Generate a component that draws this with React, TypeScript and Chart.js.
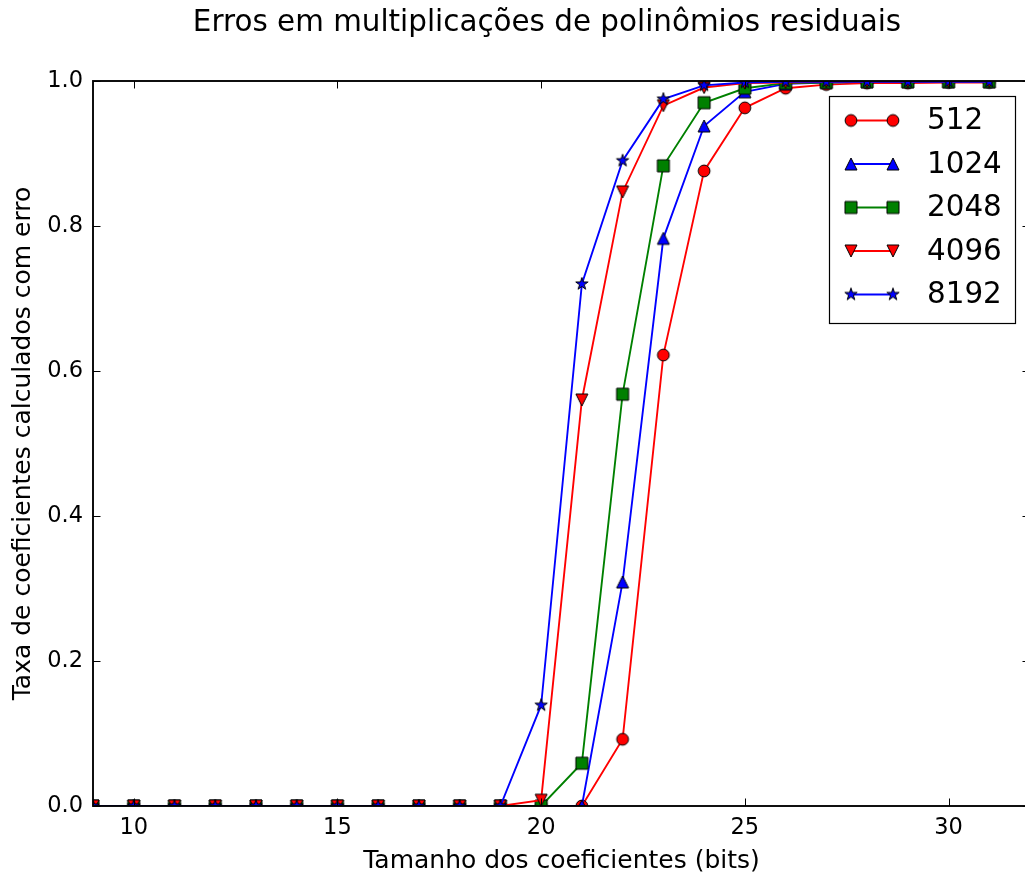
import React, { useEffect, useRef } from 'react';
import { Chart, registerables } from 'chart.js';

Chart.register(...registerables);

// ---- data ----
const chartTitle = 'Erros em multiplicações de polinômios residuais';
const xAxisTitle = 'Tamanho dos coeficientes (bits)';
const yAxisTitle = 'Taxa de coeficientes calculados com erro';

const bits = [9, 10, 11, 12, 13, 14, 15, 16, 17, 18, 19, 20, 21, 22, 23, 24, 25, 26, 27, 28, 29, 30, 31];

const rate512 = [0, 0, 0, 0, 0, 0, 0, 0, 0, 0, 0, 0, 0, 0.092, 0.622, 0.876, 0.963, 0.990, 0.995, 0.997, 0.997, 0.998, 0.998];
const rate1024 = [0, 0, 0, 0, 0, 0, 0, 0, 0, 0, 0, 0, 0, 0.309, 0.783, 0.938, 0.985, 0.996, 0.998, 0.999, 0.999, 0.999, 0.999];
const rate2048 = [0, 0, 0, 0, 0, 0, 0, 0, 0, 0, 0, 0, 0.059, 0.568, 0.883, 0.970, 0.990, 0.997, 0.998, 0.999, 0.999, 0.999, 0.999];
const rate4096 = [0, 0, 0, 0, 0, 0, 0, 0, 0, 0, 0, 0.008, 0.560, 0.847, 0.966, 0.991, 0.997, 0.998, 0.999, 0.999, 0.999, 0.999, 0.999];
const rate8192 = [0, 0, 0, 0, 0, 0, 0, 0, 0, 0, 0, 0.139, 0.720, 0.890, 0.975, 0.994, 0.998, 0.999, 0.999, 0.999, 0.999, 0.999, 0.999];

const seriesLabels = ['512', '1024', '2048', '4096', '8192'];
const seriesValues = [rate512, rate1024, rate2048, rate4096, rate8192];
const seriesColors = ['#ff0000', '#0000ff', '#008000', '#ff0000', '#0000ff'];
const seriesMarkers = ['circle', 'triUp', 'square', 'triDown', 'star'];

const xTickValues = [10, 15, 20, 25, 30];
const yTickValues = [0, 0.2, 0.4, 0.6, 0.8, 1.0];

const FONT = 'DejaVu Sans';

function drawMarkerPath(ctx: CanvasRenderingContext2D, kind: string, cx: number, cy: number, s: number) {
  const h = s / 2;
  ctx.beginPath();
  if (kind === 'circle') {
    ctx.arc(cx, cy, h, 0, Math.PI * 2);
  } else if (kind === 'square') {
    ctx.rect(cx - h, cy - h, s, s);
  } else if (kind === 'triUp') {
    ctx.moveTo(cx, cy - h);
    ctx.lineTo(cx - h, cy + h);
    ctx.lineTo(cx + h, cy + h);
    ctx.closePath();
  } else if (kind === 'triDown') {
    ctx.moveTo(cx, cy + h);
    ctx.lineTo(cx - h, cy - h);
    ctx.lineTo(cx + h, cy - h);
    ctx.closePath();
  } else if (kind === 'star') {
    const R = h;
    const r = R * 0.381966;
    for (let i = 0; i < 10; i++) {
      const ang = -Math.PI / 2 + (i * Math.PI) / 5;
      const rad = i % 2 === 0 ? R : r;
      const px = cx + rad * Math.cos(ang);
      const py = cy + rad * Math.sin(ang);
      if (i === 0) ctx.moveTo(px, py);
      else ctx.lineTo(px, py);
    }
    ctx.closePath();
  }
}

function makeMarker(kind: string, color: string): HTMLCanvasElement {
  const c = document.createElement('canvas');
  c.width = 18;
  c.height = 18;
  const ctx = c.getContext('2d')!;
  const size = kind === 'star' ? 13 : kind === 'circle' ? 11.8 : 12;
  drawMarkerPath(ctx, kind, 9, 9, size);
  ctx.fillStyle = color;
  ctx.fill();
  ctx.lineWidth = 1;
  ctx.strokeStyle = '#000';
  ctx.lineJoin = 'miter';
  ctx.stroke();
  return c;
}

export default function App() {
  const canvasRef = useRef<HTMLCanvasElement | null>(null);

  useEffect(() => {
    const canvas = canvasRef.current;
    if (!canvas) return;
    const markers = seriesMarkers.map((k, i) => makeMarker(k, seriesColors[i]));

    const datasets = seriesLabels.map((label, i) => ({
      label,
      data: bits.map((b, j) => ({ x: b, y: seriesValues[i][j] })),
      borderColor: seriesColors[i],
      backgroundColor: seriesColors[i],
      borderWidth: 1.875,
      pointStyle: markers[i],
      pointRadius: 6,
      pointHoverRadius: 6,
      tension: 0,
      order: seriesLabels.length - 1 - i,
    }));

    const titlePlugin = {
      id: 'mplTitle',
      afterDraw(chart: any) {
        const ctx = chart.ctx;
        ctx.save();
        ctx.font = `29.4px "${FONT}"`;
        ctx.fillStyle = '#000';
        ctx.textAlign = 'center';
        ctx.textBaseline = 'middle';
        ctx.fillText(chartTitle, 547, 23.5);
        ctx.restore();
      },
    };

    const framePlugin = {
      id: 'mplFrame',
      afterDatasetsDraw(chart: any) {
        const { ctx, chartArea } = chart;
        const { left, right, top, bottom } = chartArea;
        const xs = chart.scales.x;
        const ys = chart.scales.y;
        const tl = 7.5;
        ctx.save();
        ctx.strokeStyle = '#000';
        ctx.lineWidth = 1;
        ctx.beginPath();
        for (const t of xTickValues) {
          const px = Math.round(xs.getPixelForValue(t)) + 0.5;
          ctx.moveTo(px, bottom);
          ctx.lineTo(px, bottom - tl);
          ctx.moveTo(px, top);
          ctx.lineTo(px, top + tl);
        }
        for (const t of yTickValues) {
          const py = Math.round(ys.getPixelForValue(t)) + 0.5;
          ctx.moveTo(left, py);
          ctx.lineTo(left + tl, py);
          ctx.moveTo(right, py);
          ctx.lineTo(right - tl, py);
        }
        ctx.stroke();
        ctx.lineWidth = 1.875;
        ctx.strokeRect(left, top, right - left, bottom - top);
        ctx.restore();
      },
    };

    const legendPlugin = {
      id: 'mplLegend',
      afterDraw(chart: any) {
        const ctx = chart.ctx;
        const bx = 829.5;
        const by = 96.5;
        const bw = 186;
        const bh = 227;
        ctx.save();
        ctx.fillStyle = '#fff';
        ctx.fillRect(bx, by, bw, bh);
        ctx.strokeStyle = '#000';
        ctx.lineWidth = 1.2;
        ctx.strokeRect(bx, by, bw, bh);
        const x1 = 851;
        const x2 = 893;
        const rowY0 = 120.5;
        const rowGap = 43.5;
        ctx.font = `29.4px "${FONT}"`;
        ctx.textAlign = 'left';
        ctx.textBaseline = 'middle';
        seriesLabels.forEach((label, i) => {
          const y = rowY0 + i * rowGap;
          ctx.strokeStyle = seriesColors[i];
          ctx.lineWidth = 1.875;
          ctx.beginPath();
          ctx.moveTo(x1, y);
          ctx.lineTo(x2, y);
          ctx.stroke();
          const m = markers[i];
          ctx.drawImage(m, x1 - m.width / 2, y - m.height / 2);
          ctx.drawImage(m, x2 - m.width / 2, y - m.height / 2);
          ctx.fillStyle = '#000';
          ctx.fillText(label, 927, y + 1);
        });
        ctx.restore();
      },
    };

    const chart = new Chart(canvas, {
      type: 'line',
      data: { datasets },
      options: {
        animation: false,
        responsive: false,
        events: [],
        layout: { padding: { top: 81, right: 10, bottom: 0, left: 0 } },
        plugins: {
          legend: { display: false },
          title: { display: false },
          tooltip: { enabled: false },
        },
        scales: {
          x: {
            type: 'linear',
            min: 9,
            max: 32,
            grid: { display: false, drawTicks: false, tickLength: 0 },
            border: { display: false },
            afterBuildTicks(scale: any) {
              scale.ticks = xTickValues.map((v) => ({ value: v }));
            },
            afterFit(scale: any) {
              scale.height = 70;
            },
            ticks: {
              padding: 9,
              color: '#000',
              font: { family: FONT, size: 22.5 },
              maxRotation: 0,
              callback: (v: any) => String(v),
            },
            title: {
              display: true,
              text: xAxisTitle,
              color: '#000',
              font: { family: FONT, size: 25 },
              padding: { top: 0, bottom: 0 },
            },
          },
          y: {
            type: 'linear',
            min: 0,
            max: 1,
            grid: { display: false, drawTicks: false, tickLength: 0 },
            border: { display: false },
            afterBuildTicks(scale: any) {
              scale.ticks = yTickValues.map((v) => ({ value: v }));
            },
            afterFit(scale: any) {
              scale.width = 93;
            },
            ticks: {
              padding: 10,
              color: '#000',
              font: { family: FONT, size: 22.5 },
              callback: (v: any) => Number(v).toFixed(1),
            },
            title: {
              display: true,
              text: yAxisTitle,
              color: '#000',
              font: { family: FONT, size: 25 },
              padding: { top: 8, bottom: 0 },
            },
          },
        },
      },
      plugins: [framePlugin, titlePlugin, legendPlugin],
    } as any);

    return () => chart.destroy();
  }, []);

  return (
    <div
      style={{
        position: 'fixed',
        left: 0,
        top: 0,
        width: 1025,
        height: 876,
        overflow: 'hidden',
        background: '#fff',
      }}
    >
      <canvas ref={canvasRef} width={1040} height={876} style={{ display: 'block', width: 1040, height: 876 }} />
    </div>
  );
}
